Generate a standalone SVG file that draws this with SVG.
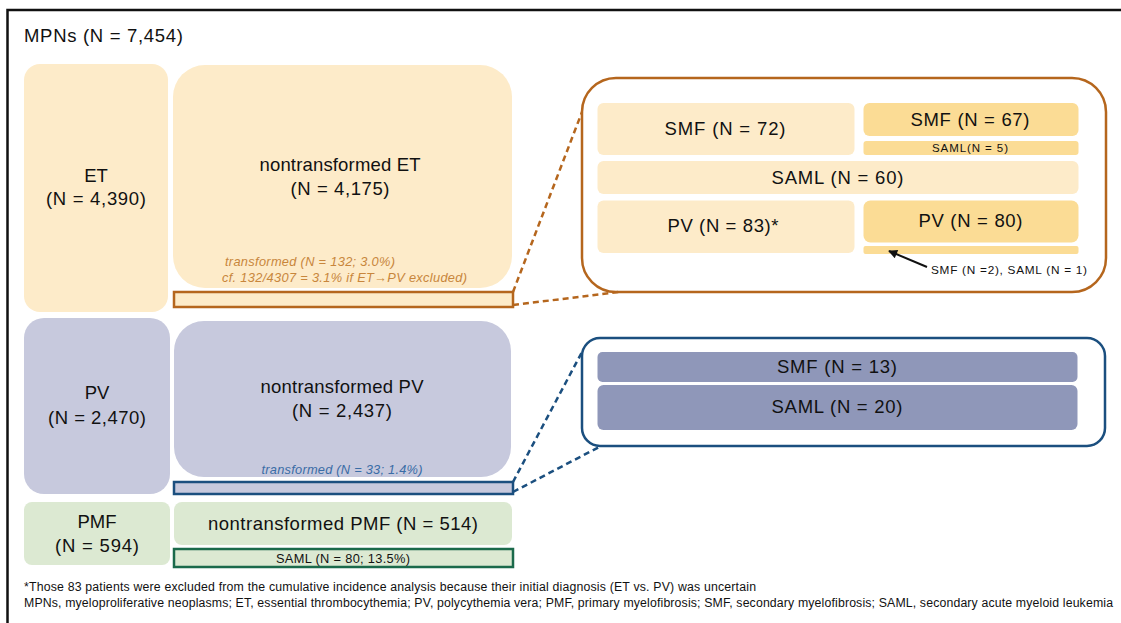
<svg xmlns="http://www.w3.org/2000/svg" width="1121" height="623" viewBox="0 0 1121 623">
<style>
text{font-family:"Liberation Sans",Arial,sans-serif;fill:#111}
.big{font-size:18.5px;text-anchor:middle}
.sm{font-size:11.5px;text-anchor:middle}
.foot{font-size:12.3px}
.et{fill:#FDEBC9}
.etd{fill:#FBDC95}
.pv{fill:#C7C9DD}
.pvd{fill:#8F97B9}
.pmf{fill:#DCE9D2}
.ito{font-size:12.8px;font-style:italic;fill:#C8863C}
.itb{font-size:12.8px;font-style:italic;fill:#3A6CA6;text-anchor:middle}
.dash{fill:none;stroke-width:2.5;stroke-dasharray:6 4}
</style>
<defs>
<marker id="ah" viewBox="0 0 10 10" refX="9" refY="5" markerWidth="11" markerHeight="9" orient="auto" markerUnits="userSpaceOnUse">
<path d="M0,0 L10,5 L0,10 z" fill="#111"/>
</marker>
</defs>
<rect width="1121" height="623" fill="#fff"/>
<path d="M1121,10 H7.5 V623" fill="none" stroke="#111" stroke-width="2.5"/>
<text x="24" y="42" style="font-size:18.5px" textLength="159" lengthAdjust="spacing">MPNs (N = 7,454)</text>

<g id="et">
<rect class="et" x="24" y="64" width="144" height="248" rx="16"/>
<text class="big" x="96" y="182">ET</text>
<text class="big" x="96" y="205" textLength="100" lengthAdjust="spacing">(N = 4,390)</text>
</g>
<g id="et-nontransformed">
<rect class="et" x="173" y="65" width="339" height="223" rx="32"/>
<text class="big" x="340" y="171" textLength="161" lengthAdjust="spacing">nontransformed ET</text>
<text class="big" x="340" y="195" textLength="99" lengthAdjust="spacing">(N = 4,175)</text>
<text class="ito" x="225" y="266" textLength="170" lengthAdjust="spacing">transformed (N = 132; 3.0%)</text>
<text class="ito" x="222" y="282" textLength="245" lengthAdjust="spacing">cf. 132/4307 = 3.1% if ET→PV excluded)</text>
</g>
<g id="et-transformed">
<rect class="et" x="174" y="292" width="339" height="15" stroke="#B5661D" stroke-width="2.5"/>
</g>

<g id="pv">
<rect class="pv" x="24" y="318" width="146" height="176" rx="20"/>
<text class="big" x="97" y="399">PV</text>
<text class="big" x="97" y="424" textLength="98" lengthAdjust="spacing">(N = 2,470)</text>
</g>
<g id="pv-nontransformed">
<rect class="pv" x="174" y="321" width="337" height="156" rx="30"/>
<text class="big" x="342" y="393" textLength="163" lengthAdjust="spacing">nontransformed PV</text>
<text class="big" x="342" y="417" textLength="100" lengthAdjust="spacing">(N = 2,437)</text>
<text class="itb" x="342" y="474" textLength="161" lengthAdjust="spacing">transformed (N = 33; 1.4%)</text>
</g>
<g id="pv-transformed">
<rect class="pv" x="174" y="482" width="339" height="12" stroke="#1B4F7F" stroke-width="2.5"/>
</g>

<g id="pmf">
<rect class="pmf" x="24" y="502" width="146" height="63" rx="8"/>
<text class="big" x="97" y="528">PMF</text>
<text class="big" x="97" y="552" textLength="84" lengthAdjust="spacing">(N = 594)</text>
</g>
<g id="pmf-nontransformed">
<rect class="pmf" x="174" y="502" width="338" height="43" rx="8"/>
<text class="big" x="343" y="530" textLength="270" lengthAdjust="spacing">nontransformed PMF (N = 514)</text>
</g>
<g id="pmf-saml">
<rect class="pmf" x="174" y="549" width="339" height="18" stroke="#1B6A4B" stroke-width="2.5"/>
<text x="343" y="563" style="font-size:12.8px;text-anchor:middle" textLength="134" lengthAdjust="spacing">SAML (N = 80; 13.5%)</text>
</g>

<g id="et-panel">
<rect x="582" y="78" width="524" height="214" rx="34" fill="#fff" stroke="#B5661D" stroke-width="2.5"/>
</g>
<g id="et-smf72">
<rect class="et" x="597.5" y="103" width="257" height="52" rx="6"/>
<text class="big" x="725" y="135" textLength="121" lengthAdjust="spacing">SMF (N = 72)</text>
</g>
<g id="et-smf67">
<rect class="etd" x="863.5" y="103" width="215" height="33" rx="6"/>
<text class="big" x="970" y="126" textLength="119" lengthAdjust="spacing">SMF (N = 67)</text>
</g>
<g id="et-saml5">
<rect class="etd" x="863.5" y="141" width="215" height="14" rx="3"/>
<text class="sm" x="970" y="152" textLength="76" lengthAdjust="spacing">SAML(N = 5)</text>
</g>
<g id="et-saml60">
<rect class="et" x="597.5" y="161" width="481" height="33" rx="6"/>
<text class="big" x="837.5" y="184" textLength="132" lengthAdjust="spacing">SAML (N = 60)</text>
</g>
<g id="et-pv83">
<rect class="et" x="597.5" y="200.5" width="257" height="52.5" rx="6"/>
<text class="big" x="723" y="232" textLength="111" lengthAdjust="spacing">PV (N = 83)*</text>
</g>
<g id="et-pv80">
<rect class="etd" x="863.5" y="200.5" width="215" height="42" rx="7"/>
<text class="big" x="970.5" y="227" textLength="104" lengthAdjust="spacing">PV (N = 80)</text>
</g>
<g id="et-pv80-transformed">
<rect class="etd" x="863.5" y="246" width="215" height="8" rx="2"/>
</g>
<g id="et-pv80-note">
<text x="931" y="274" style="font-size:11.8px" textLength="156" lengthAdjust="spacing">SMF (N =2), SAML (N = 1)</text>
</g>

<g id="pv-panel">
<rect x="582" y="338" width="523" height="108" rx="18" fill="#fff" stroke="#1B4F7F" stroke-width="2.5"/>
</g>
<g id="pv-smf13">
<rect class="pvd" x="597.5" y="352" width="480" height="30" rx="5"/>
<text class="big" x="837" y="373" textLength="120" lengthAdjust="spacing">SMF (N = 13)</text>
</g>
<g id="pv-saml20">
<rect class="pvd" x="597.5" y="385" width="480" height="45" rx="6"/>
<text class="big" x="837" y="413" textLength="131" lengthAdjust="spacing">SAML (N = 20)</text>
</g>

<g id="connectors">
<path class="dash" stroke="#B5661D" d="M513,292 L582,112"/>
<path class="dash" stroke="#B5661D" d="M513,305 L619,292"/>
<path class="dash" stroke="#1B4F7F" d="M513,482 L582,352"/>
<path class="dash" stroke="#1B4F7F" d="M513,492 L601,446"/>
<path d="M927,267 L889,251" fill="none" stroke="#111" stroke-width="2" marker-end="url(#ah)"/>
</g>

<text class="foot" x="24" y="591" textLength="732" lengthAdjust="spacing">*Those 83 patients were excluded from the cumulative incidence analysis because their initial diagnosis (ET vs. PV) was uncertain</text>
<text class="foot" x="24" y="607" textLength="1089" lengthAdjust="spacing">MPNs, myeloproliferative neoplasms; ET, essential thrombocythemia; PV, polycythemia vera; PMF, primary myelofibrosis; SMF, secondary myelofibrosis; SAML, secondary acute myeloid leukemia</text>
</svg>
